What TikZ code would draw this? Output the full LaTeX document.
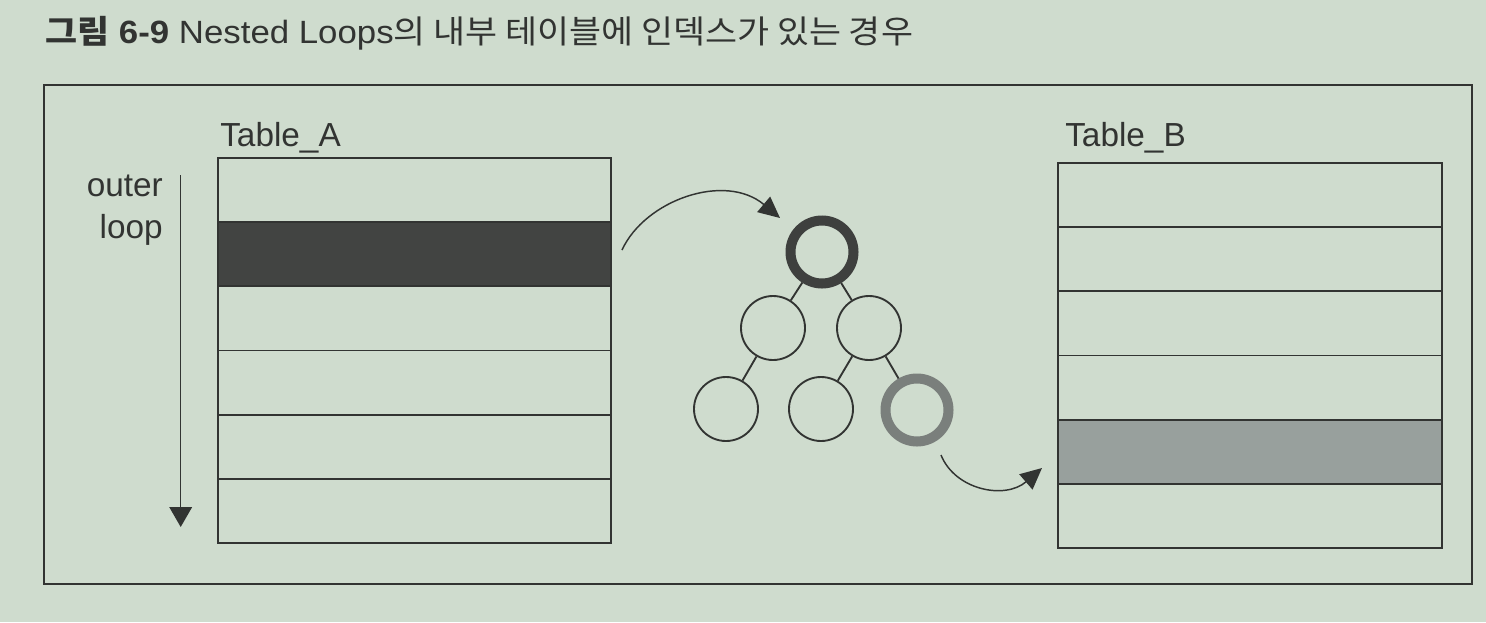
\documentclass[tikz,border=0pt]{standalone}
\usepackage{fontspec}
\setmainfont{Liberation Sans}
\newfontfamily\kr{Noto Sans CJK KR}
\usetikzlibrary{arrows.meta}
\definecolor{bg}{RGB}{207,220,206}
\definecolor{ink}{RGB}{50,52,50}
\definecolor{darkrow}{RGB}{66,68,66}
\definecolor{grayrow}{RGB}{152,160,157}
\definecolor{ringdark}{RGB}{62,64,62}
\definecolor{ringgray}{RGB}{122,127,124}
\begin{document}
\begin{tikzpicture}[x=0.75pt,y=-0.75pt,
  rowA/.style={draw=ink, line width=1.4pt, minimum width=294.75pt, minimum height=48.13pt, inner sep=0pt, outer sep=0pt},
  rowB/.style={draw=ink, line width=1.4pt, minimum width=288pt, minimum height=48.13pt, inner sep=0pt, outer sep=0pt},
  lbl/.style={text=ink, font=\fontsize{25pt}{30pt}\selectfont, inner sep=0pt},
  leaf/.style={circle, draw=ink, line width=1.4pt, minimum size=48pt, inner sep=0pt},
  ring/.style={circle, line width=7.5pt, minimum size=47.25pt, inner sep=0pt},
  edge/.style={draw=ink, line width=1.4pt},
  arr/.style={draw=ink, line width=1.1pt, -{Triangle[length=16pt,width=15pt]}},
  frame/.style={draw=ink, line width=1.5pt}]
\useasboundingbox[fill=bg] (0,0) rectangle (1486,622);
% title
\node[anchor=base west, inner sep=0pt, text=ink] (title) at (45,43)
  {\scalebox{1.135}[1.05]{\fontsize{23pt}{28pt}\selectfont{\kr\bfseries 그림} \textbf{6-9} Nested Loops{\kr 의 내부 테이블에 인덱스가 있는 경우}}};
% frame
\draw[frame] (44,85) rectangle (1472,584);
% Table A
\node[lbl, anchor=base west] (ta) at (220,146) {Table\_A};
\node[rowA] (a1) at (414.5,190.08) {};
\node[rowA, fill=darkrow] (a2) at (414.5,254.25) {};
\node[rowA] (a3) at (414.5,318.42) {};
\node[rowA] (a4) at (414.5,382.58) {};
\node[rowA] (a5) at (414.5,446.75) {};
\node[rowA] (a6) at (414.5,510.92) {};
% outer loop
\node[lbl, anchor=base east] (outer) at (163,196) {outer};
\node[lbl, anchor=base east] (loop) at (163,238) {loop};
\coordinate (ls) at (180.7,175);
\coordinate (le) at (180.7,527);
\draw[draw=ink, line width=1.1pt, -{Triangle[length=15pt,width=17pt]}] (ls) -- (le);
% Table B
\node[lbl, anchor=base west] (tb) at (1065,146) {Table\_B};
\node[rowB] (b1) at (1250,195.08) {};
\node[rowB] (b2) at (1250,259.25) {};
\node[rowB] (b3) at (1250,323.42) {};
\node[rowB] (b4) at (1250,387.58) {};
\node[rowB, fill=grayrow] (b5) at (1250,451.75) {};
\node[rowB] (b6) at (1250,515.92) {};
% tree
\node[ring, draw=ringdark] (root) at (822,252) {};
\node[leaf] (l) at (773,328) {};
\node[leaf] (r) at (869,328) {};
\node[leaf] (bl) at (726,409) {};
\node[leaf] (bm) at (821,409) {};
\node[ring, draw=ringgray] (br) at (917,410) {};
\draw[edge] (root) -- (l);
\draw[edge] (root) -- (r);
\draw[edge] (l) -- (bl);
\draw[edge] (r) -- (bm);
\draw[edge] (r) -- (br);
% arrows
\coordinate (s1) at (622,250);
\coordinate (e1) at (780,218);
\draw[arr] (s1) .. controls (645,200) and (725,172) .. (e1);
\coordinate (s2) at (941,455);
\coordinate (e2) at (1042,468);
\draw[arr] (s2) .. controls (955,490) and (1005,500) .. (e2);
\end{tikzpicture}
\end{document}
